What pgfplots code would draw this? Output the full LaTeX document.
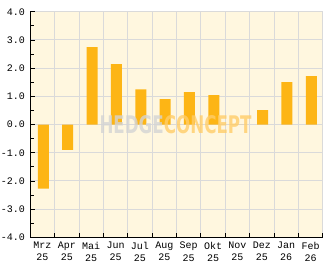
\documentclass[border=0pt]{standalone}
\usepackage{fontspec}
\usepackage{graphicx}
\setmainfont{Liberation Sans}
\newfontfamily\monofont{Liberation Mono}
\newfontfamily\wmfont{DejaVu Sans}
\usepackage{pgfplots}
\pgfplotsset{compat=1.18}
\definecolor{bgc}{RGB}{255,247,223}
\definecolor{barc}{RGB}{253,181,21}
\definecolor{gridc}{RGB}{218,218,218}
\definecolor{wmgray}{RGB}{212,212,212}
\definecolor{wmor}{RGB}{255,205,105}
\begin{document}
\begin{tikzpicture}[x=1pt,y=1pt]
\useasboundingbox (0,0) rectangle (332,269);
\begin{axis}[
  at={(30.3pt,31.7pt)}, anchor=south west,
  scale only axis, width=292.4pt, height=225.6pt,
  xmin=-0.5, xmax=11.5, ymin=-4, ymax=4,
  axis background/.style={fill=bgc},
  axis x line*=bottom, axis y line*=left,
  axis line style={black, line width=0.8pt},
  xtick={0,...,11},
  xticklabels={{Mrz\\25},{Apr\\25},{Mai\\25},{Jun\\25},{Jul\\25},{Aug\\25},{Sep\\25},{Okt\\25},{Nov\\25},{Dez\\25},{Jan\\26},{Feb\\26}},
  major x tick style={draw=none},
  minor xtick={0.5,1.5,...,11.5},
  xminorgrids,
  minor x tick style={black, line width=0.8pt},
  minor tick length=4pt,
  ytick={-4,-3,...,4},
  minor ytick={-3.5,-2.5,...,3.5},
  ymajorgrids,
  major y tick style={black, line width=0.8pt},
  minor y tick style={black, line width=0.8pt},
  major tick length=5pt,
  grid style={gridc, line width=0.9pt},
  minor grid style={gridc, line width=0.9pt},
  xticklabel style={align=center, font=\monofont\fontsize{10}{12.5}\selectfont, yshift=-1pt},
  yticklabel style={font=\monofont\fontsize{10}{12}\selectfont, xshift=-2pt},
  /pgf/number format/assume math mode=true,
  yticklabel={\pgfmathprintnumber[fixed,fixed zerofill,precision=1]{\tick}},
  clip=false,
]
\addplot[ybar, bar width=11pt, fill=barc, draw=none, bar shift=0.8pt] coordinates {
(0,-2.27) (1,-0.9) (2,2.74) (3,2.14) (4,1.25) (5,0.9) (6,1.15) (7,1.04) (8,0) (9,0.51) (10,1.5) (11,1.72)
};
\node[opacity=0.8, inner sep=0] at (axis cs:5.46,0) {\resizebox{152pt}{18pt}{\wmfont\bfseries\color{wmgray}HEDGE\color{wmor}CONCEPT}};
\end{axis}
\end{tikzpicture}
\end{document}
